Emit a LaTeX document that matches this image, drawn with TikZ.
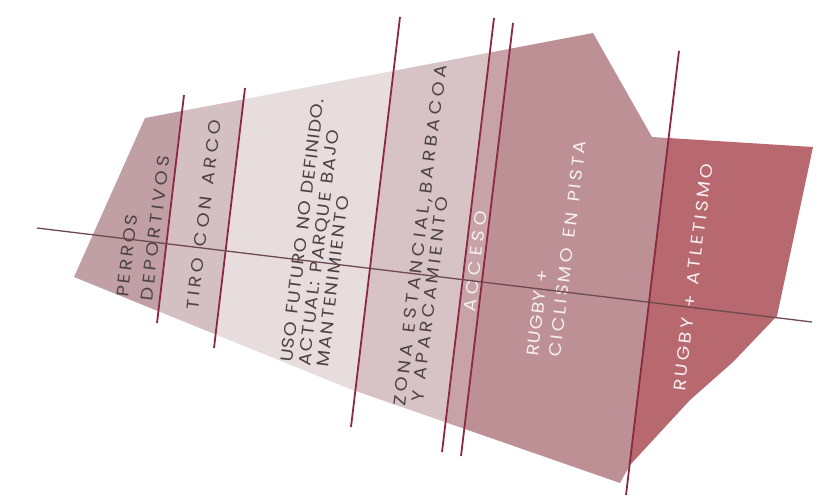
\documentclass[tikz,border=0pt]{standalone}
\usepackage{fontspec}
\usetikzlibrary{calc}
\newfontfamily\labfont[FakeStretch=1.12,WordSpace=1.3]{Poppins}
\definecolor{cperros}{HTML}{C0A0A5}
\definecolor{ctiro}{HTML}{D4C0C3}
\definecolor{cuso}{HTML}{E7DDDE}
\definecolor{czona}{HTML}{D7C3C6}
\definecolor{cacceso}{HTML}{C7A3A8}
\definecolor{cciclismo}{HTML}{BD9096}
\definecolor{catletismo}{HTML}{B8686F}
\definecolor{divred}{HTML}{8C2842}
\definecolor{axisc}{HTML}{6D4A50}
\definecolor{labgray}{HTML}{4D4346}
\definecolor{labwhite}{HTML}{F6EFF0}
\begin{document}
\begin{tikzpicture}[x=1pt,y=-1pt,
  lab/.style={anchor=base west, inner sep=0pt, rotate=83, text=labgray,
    font=\labfont\fontsize{17}{19}\selectfont\addfontfeature{LetterSpace=#1}},
  lab/.default=15,
  labw/.style={lab=#1, text=labwhite},
  labw/.default=15,
  divider/.style={draw=divred, line width=1.8pt},
  axisline/.style={draw=axisc, line width=1.3pt}]
\useasboundingbox (0,0) rectangle (821,495);
% outline
\coordinate (P1) at (74,277);
\coordinate (P2) at (145,118);
\coordinate (P3) at (593,33);
\coordinate (P4) at (652,137);
\coordinate (P5) at (813,147);
\coordinate (P6) at (777,316);
\coordinate (P7) at (733,362);
\coordinate (P8) at (690,400);
\coordinate (P9) at (630,465);
\coordinate (P10) at (620,483);
\coordinate (P11) at (350,389);
% dividing lines
\coordinate (L1a) at (184,95);  \coordinate (L1b) at (157,323);
\coordinate (L2a) at (245,88);  \coordinate (L2b) at (214,348);
\coordinate (L3a) at (400,17);  \coordinate (L3b) at (351,427);
\coordinate (L4a) at (494,18);  \coordinate (L4b) at (442,452);
\coordinate (L5a) at (513,23);  \coordinate (L5b) at (461,456);
\coordinate (L6a) at (679,51);  \coordinate (L6b) at (626,495);
\coordinate (Ha) at (37,228);   \coordinate (Hb) at (812,322);
\foreach \i in {1,...,6}{
  \coordinate (E\i a) at ($(L\i a)!-1.5!(L\i b)$);
  \coordinate (E\i b) at ($(L\i a)!2.5!(L\i b)$);
}
\begin{scope}
\clip (P1) -- (P2) -- (P3) -- (P4) -- (P5) -- (P6) -- (P7) -- (P8) -- (P9) -- (P10) -- (P11) -- cycle;
\fill[cperros] (-100,-400) -- (E1a) -- (E1b) -- (-100,900) -- cycle;
\fill[ctiro] (E1a) -- (E2a) -- (E2b) -- (E1b) -- cycle;
\fill[cuso] (E2a) -- (E3a) -- (E3b) -- (E2b) -- cycle;
\fill[czona] (E3a) -- (E4a) -- (E4b) -- (E3b) -- cycle;
\fill[cacceso] (E4a) -- (E5a) -- (E5b) -- (E4b) -- cycle;
\fill[cciclismo] (E5a) -- (E6a) -- (E6b) -- (E5b) -- cycle;
\fill[catletismo] (E6a) -- (1000,-400) -- (1000,900) -- (E6b) -- cycle;
\end{scope}
% labels
\node[lab=15.5] (perros) at (128,298) {PERROS};
\node[lab=20.5] (deportivos) at (152,302) {DEPORTIVOS};
\node[lab=22] (tiro) at (198,311) {TIRO CON ARCO};
\node[lab=5.2] (uso1) at (292,363) {USO FUTURO NO DEFINIDO.};
\node[lab=9.4] (uso2) at (310,367) {ACTUAL: PARQUE BAJO};
\node[lab=11] (uso3) at (328,368) {MANTENIMIENTO};
\node[lab=22.2] (zona1) at (405,407) {ZONA ESTANCIAL,BARBACOA};
\node[lab=21] (zona2) at (423,403) {Y APARCAMIENTO};
\node[labw=27.5] (acceso) at (475,313) {ACCESO};
\node[labw=6] (rugby1) at (538,357) {RUGBY +};
\node[labw=16.8] (rugby2) at (560,358) {CICLISMO EN PISTA};
\node[labw=16.8] (rugby3) at (685,392) {RUGBY + ATLETISMO};
% lines
\foreach \i in {1,...,6}{ \draw[divider] (L\i a) -- (L\i b); }
\draw[axisline] (Ha) -- (Hb);
\end{tikzpicture}
\end{document}
